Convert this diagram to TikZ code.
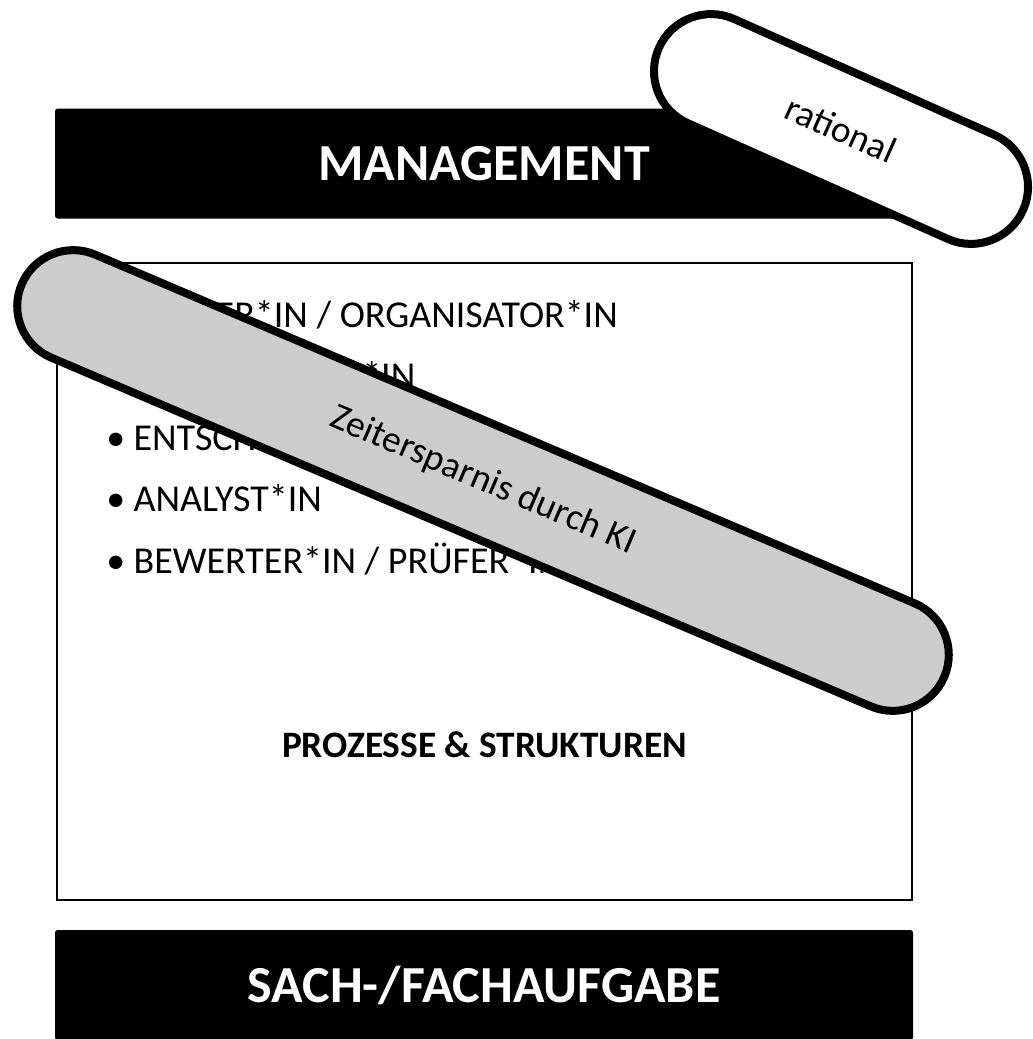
\documentclass[tikz,border=0pt]{standalone}
\usepackage{fontspec}
\setmainfont{Carlito}
\usetikzlibrary{shapes.misc}
\tikzset{
  bar/.style={rectangle, fill=black, rounded corners=2pt, minimum width=643.5pt, minimum height=82.5pt, inner sep=0pt, text=white, font=\fontsize{39}{46}\selectfont\bfseries},
  item/.style={anchor=base west, inner sep=0pt, font=\fontsize{28.5}{34}\selectfont},
  pill/.style={rounded rectangle, draw=black, line width=6pt, inner sep=0pt, font=\fontsize{28}{33}\selectfont},
  frame/.style={rectangle, draw=black, line width=1.1pt, inner sep=0pt}
}
\begin{document}
\begin{tikzpicture}[x=0.75pt, y=-0.75pt]
\useasboundingbox (0,0) rectangle (1032,1039);
% bars
\node[bar] (mgmt) at (484,163.5) {MANAGEMENT};
\node[bar] (sach) at (484,985) {SACH-/FACHAUFGABE};
% middle box
\node[frame, minimum width=641.25pt, minimum height=477.75pt] (box) at (484.5,581.5) {};
% bullet items
\node[item] (i1) at (106,327) {\makebox[20.5pt][l]{•}PLANER*IN / ORGANISATOR*IN};
\node[item] (i2) at (106,388.5) {\makebox[20.5pt][l]{•}KOORDINATOR*IN};
\node[item] (i3) at (106,450) {\makebox[20.5pt][l]{•}ENTSCHEIDER*IN};
\node[item] (i4) at (106,511.5) {\makebox[20.5pt][l]{•}ANALYST*IN};
\node[item] (i5) at (106,573) {\makebox[20.5pt][l]{•}BEWERTER*IN / PRÜFER*IN};
\node[inner sep=0pt, font=\fontsize{28}{33}\selectfont\bfseries] (proz) at (484.5,745) {PROZESSE \& STRUKTUREN};
% pills
\node[pill, fill=gray!40, minimum width=752pt, minimum height=84pt, rotate=-23.05] (ki) at (483,480.5) {Zeitersparnis durch KI};
\node[pill, fill=white, minimum width=299pt, minimum height=85.5pt, rotate=-24] (rat) at (841,129) {rational};
\end{tikzpicture}
\end{document}
